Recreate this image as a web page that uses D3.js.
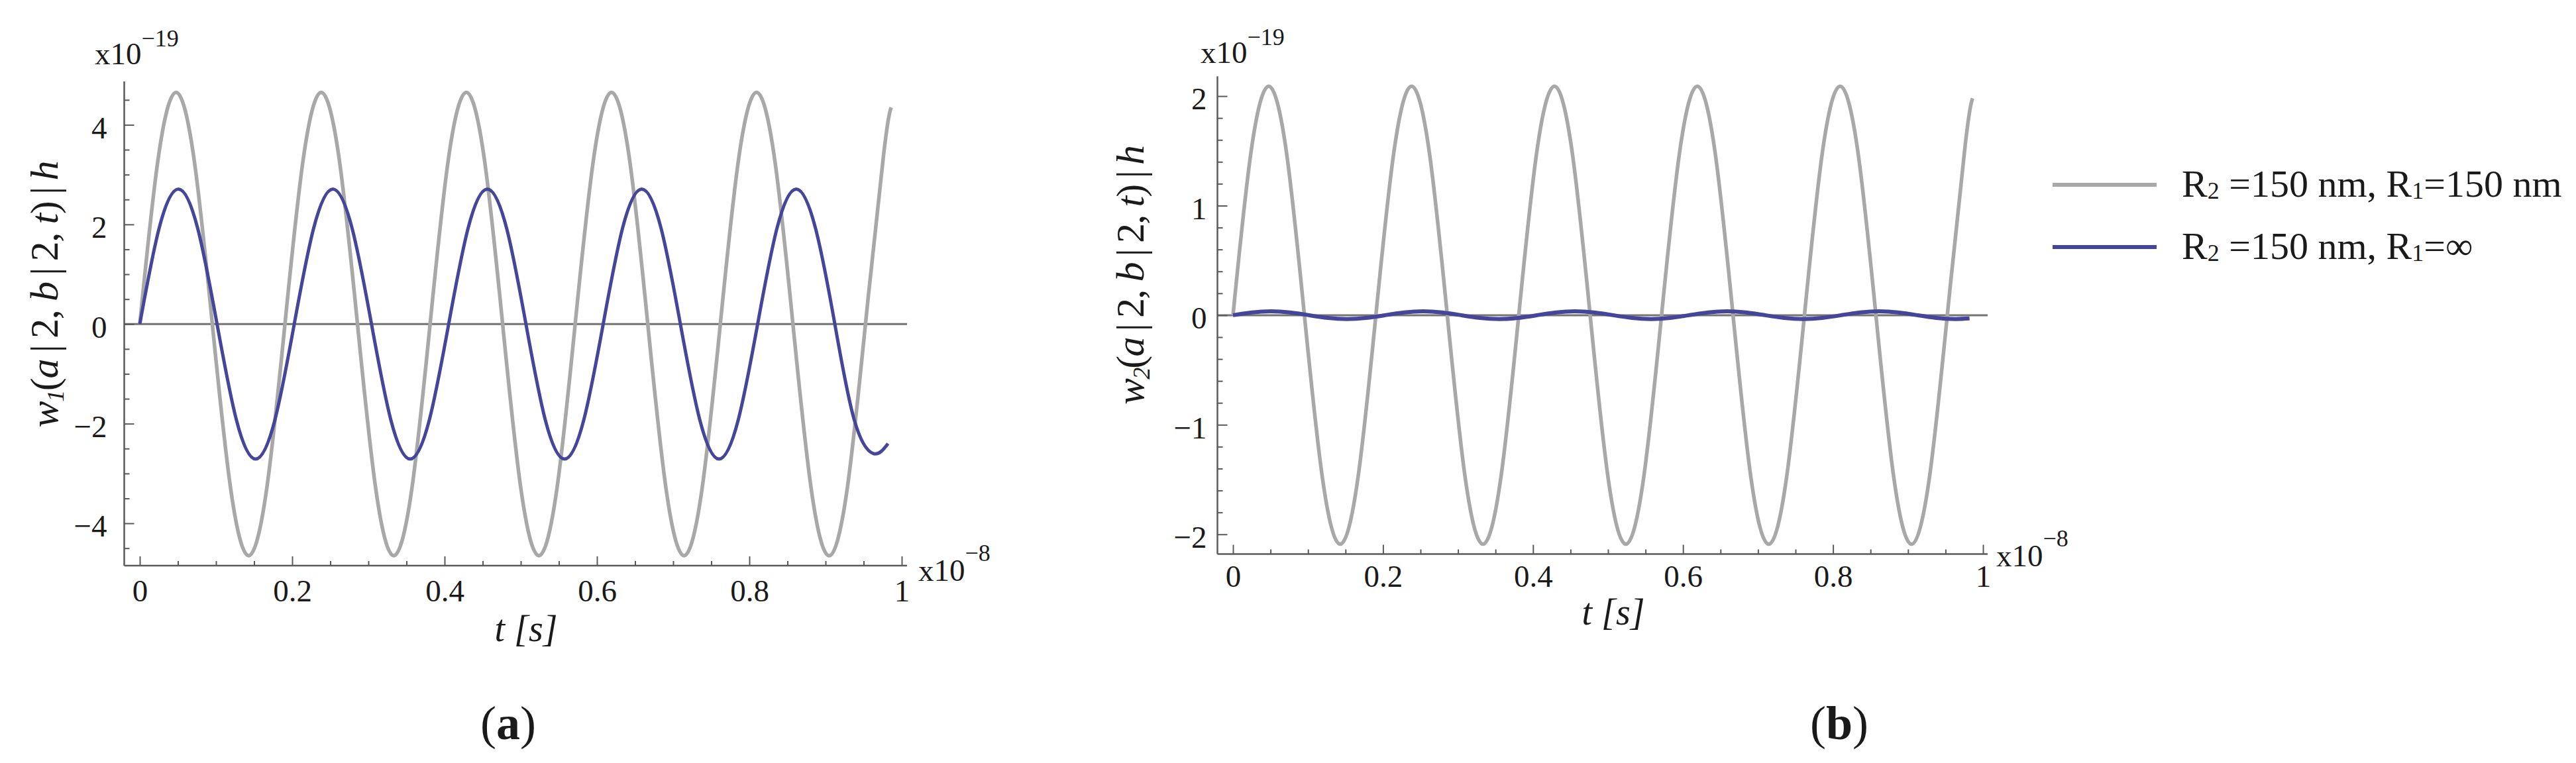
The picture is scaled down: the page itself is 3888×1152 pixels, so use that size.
<!DOCTYPE html>
<html><head><meta charset="utf-8">
<script src="https://cdn.jsdelivr.net/npm/d3@7"></script>
<style>
html,body{margin:0;padding:0;background:#fff;}
svg{display:block;}
text{font-family:"Liberation Serif","Times New Roman",serif;fill:#1a1a1a;}
</style>
</head><body>
<svg id="chart" width="3888" height="1152"></svg>
<script>
// ---------------- data ----------------
// time axis, units of 1e-8 s
const tGray = [0,0.0238,0.0476,0.0714,0.0952,0.1191,0.1429,0.1667,0.1905,0.2143,0.2381,0.2619,0.2857,0.3095,0.3333,0.3572,0.3810,0.4048,0.4286,0.4524,0.4762,0.5000,0.5238,0.5476,0.5714,0.5953,0.6191,0.6429,0.6667,0.6905,0.7143,0.7381,0.7619,0.7857,0.8095,0.8334,0.8572,0.8810,0.9048,0.9286,0.9524,0.9762,0.986];
// panel (a) grey curve  R2=150 nm, R1=150 nm  (x1e-19)
const grayA = [0,3.29,4.65,3.29,0,-3.29,-4.65,-3.29,0,3.29,4.65,3.29,0,-3.29,-4.65,-3.29,0,3.29,4.65,3.29,0,-3.29,-4.65,-3.29,0,3.29,4.65,3.29,0,-3.29,-4.65,-3.29,0,3.29,4.65,3.29,0,-3.29,-4.65,-3.29,0,3.4,4.35];
// panel (b) grey curve
const grayB = [0,1.48,2.09,1.48,0,-1.48,-2.09,-1.48,0,1.48,2.09,1.48,0,-1.48,-2.09,-1.48,0,1.48,2.09,1.48,0,-1.48,-2.09,-1.48,0,1.48,2.09,1.48,0,-1.48,-2.09,-1.48,0,1.48,2.09,1.48,0,-1.48,-2.09,-1.48,0,1.55,1.98];
const tBlue = [0,0.0253,0.0507,0.0760,0.1014,0.1267,0.1520,0.1774,0.2027,0.2281,0.2534,0.2787,0.3041,0.3294,0.3548,0.3801,0.4054,0.4308,0.4561,0.4815,0.5068,0.5321,0.5575,0.5828,0.6082,0.6335,0.6588,0.6842,0.7095,0.7349,0.7602,0.7855,0.8109,0.8362,0.8616,0.8869,0.9122,0.9376,0.9629,0.982];
// panel (a) blue curve  R2=150 nm, R1=inf
const blueA = [0,1.92,2.71,1.92,0,-1.92,-2.71,-1.92,0,1.92,2.71,1.92,0,-1.92,-2.71,-1.92,0,1.92,2.71,1.92,0,-1.92,-2.71,-1.92,0,1.92,2.71,1.92,0,-1.92,-2.71,-1.92,0,1.92,2.71,1.92,0,-1.92,-2.6,-2.4];
// panel (b) blue curve
const blueB = [0,0.025,0.035,0.025,0,-0.025,-0.035,-0.025,0,0.025,0.035,0.025,0,-0.025,-0.035,-0.025,0,0.025,0.035,0.025,0,-0.025,-0.035,-0.025,0,0.025,0.035,0.025,0,-0.025,-0.035,-0.025,0,0.025,0.035,0.025,0,-0.025,-0.035,-0.03];

const xTicks = [0,0.2,0.4,0.6,0.8,1];
const yTicksA = [-4,-2,0,2,4];
const yTicksB = [-2,-1,0,1,2];
const legendLabels = ["R₂ =150 nm, R₁=150 nm", "R₂ =150 nm, R₁=∞"];
const panelLabels = ["a","b"];
const yTitleSub = ["1","2"];

// ---------------- drawing ----------------
const svg = d3.select("#chart");
const GRAY = "#a8a8a8", BLUE = "#45459a", AXIS = "#5a5a5a";

function fmt(d){ return d < 0 ? "\u2212" + Math.abs(d) : String(d); }
function near(a, arr){ return arr.some(b => Math.abs(a-b) < 1e-6); }

function drawPanel(cfg){
  const x = d3.scaleLinear().domain([0,1]).range([cfg.x0, cfg.x1]);
  const y = d3.scaleLinear().domain(cfg.yDomain).range([cfg.yBot, cfg.yTop]);
  const g = svg.append("g");

  // zero line
  g.append("line")
    .attr("x1", cfg.axisX).attr("x2", cfg.axisEnd)
    .attr("y1", y(0)).attr("y2", y(0))
    .attr("stroke", "#747474").attr("stroke-width", 3);

  // axis lines
  g.append("line").attr("x1", cfg.axisX).attr("x2", cfg.axisEnd)
    .attr("y1", cfg.yBot).attr("y2", cfg.yBot)
    .attr("stroke", AXIS).attr("stroke-width", 2.5);
  g.append("line").attr("x1", cfg.axisX).attr("x2", cfg.axisX)
    .attr("y1", cfg.yBot).attr("y2", cfg.yTop)
    .attr("stroke", AXIS).attr("stroke-width", 2.5);

  // x axis (ticks pointing inward)
  const xMinor = d3.range(0, 1.0001, 0.05).map(v => +v.toFixed(4)).filter(v => !near(v, xTicks));
  const gx = g.append("g").attr("transform", `translate(0,${cfg.yBot})`);
  gx.call(d3.axisBottom(x).tickValues(xTicks).tickFormat(fmt)
      .tickSizeInner(-14).tickSizeOuter(0).tickPadding(cfg.xPad));
  const gxm = g.append("g").attr("transform", `translate(0,${cfg.yBot})`);
  gxm.call(d3.axisBottom(x).tickValues(xMinor).tickFormat("")
      .tickSizeInner(-7).tickSizeOuter(0));

  // y axis
  const yMinor = d3.range(Math.ceil(cfg.yDomain[0]/cfg.yMinorStep)*cfg.yMinorStep, cfg.yDomain[1]+1e-9, cfg.yMinorStep)
      .map(v => +v.toFixed(4)).filter(v => !near(v, cfg.yTicks));
  const gy = g.append("g").attr("transform", `translate(${cfg.axisX},0)`);
  gy.call(d3.axisLeft(y).tickValues(cfg.yTicks).tickFormat(fmt)
      .tickSizeInner(-15).tickSizeOuter(0).tickPadding(cfg.yPad));
  const gym = g.append("g").attr("transform", `translate(${cfg.axisX},0)`);
  gym.call(d3.axisLeft(y).tickValues(yMinor).tickFormat("")
      .tickSizeInner(-8).tickSizeOuter(0));

  [gx, gxm, gy, gym].forEach(a => {
    a.select(".domain").remove();
    a.selectAll(".tick line").attr("stroke", AXIS).attr("stroke-width", 2);
    a.selectAll("text").attr("font-family", "Liberation Serif, serif")
      .attr("font-size", 47).attr("fill", "#1a1a1a");
  });
  gy.selectAll(".tick text").attr("dy", "0.42em");

  // curves
  const line = d3.line().x(d => x(d[0])).y(d => y(d[1])).curve(d3.curveNatural);
  cfg.series.forEach(s => {
    g.append("path").datum(d3.zip(s.t, s.v))
      .attr("d", line).attr("fill", "none")
      .attr("stroke", s.color).attr("stroke-width", s.w)
      .attr("stroke-linejoin", "round").attr("stroke-linecap", "butt");
  });

  // exponent labels
  const e1 = g.append("text").attr("x", cfg.yExpX).attr("y", cfg.yExpY).attr("font-size", 47);
  e1.append("tspan").text("x10");
  e1.append("tspan").attr("font-size", 36).attr("dy", -27).text("\u221219");
  const e2 = g.append("text").attr("x", cfg.xExpX).attr("y", cfg.xExpY).attr("font-size", 47);
  e2.append("tspan").text("x10");
  e2.append("tspan").attr("font-size", 36).attr("dy", -30).text("\u22128");

  // x title
  g.append("text").attr("x", cfg.xTitleX).attr("y", cfg.xTitleY)
    .attr("text-anchor", "middle").attr("font-size", 56).attr("font-style", "italic")
    .text("t [s]");

  // y title
  const yt = g.append("text")
    .attr("transform", `translate(${cfg.yTitleX},${cfg.yTitleY}) rotate(-90)`)
    .attr("text-anchor", "middle").attr("font-size", 60)
    .attr("textLength", cfg.yTitleLen).attr("lengthAdjust", "spacing");
  yt.append("tspan").attr("font-style", "italic").text("w");
  yt.append("tspan").attr("font-style", "italic").attr("font-size", 36).attr("dy", 9).text(cfg.sub);
  yt.append("tspan").attr("dy", -9).text("(");
  yt.append("tspan").attr("font-style", "italic").text("a");
  yt.append("tspan").text("\u2009|\u20092, ");
  yt.append("tspan").attr("font-style", "italic").text("b");
  yt.append("tspan").text("\u2009|\u20092, ");
  yt.append("tspan").attr("font-style", "italic").text("t");
  yt.append("tspan").text(")\u2009|\u2009");
  yt.append("tspan").attr("font-style", "italic").text("h");

  // panel label
  const pl = g.append("text").attr("x", cfg.labX).attr("y", 1116)
    .attr("text-anchor", "middle").attr("font-size", 72);
  pl.append("tspan").text("(");
  pl.append("tspan").attr("font-weight", "bold").text(cfg.lab);
  pl.append("tspan").text(")");
}

drawPanel({
  x0: 211, x1: 1361, yTop: 123, yBot: 854, axisX: 187.5, axisEnd: 1369,
  yDomain: [-4.85, 4.87], yTicks: yTicksA, yMinorStep: 0.5,
  xPad: 21, yPad: 26,
  yExpX: 143, yExpY: 97, xExpX: 1386, xExpY: 877,
  xTitleX: 794, xTitleY: 968,
  yTitleX: 87, yTitleY: 444, yTitleLen: 403, sub: yTitleSub[0],
  labX: 767, lab: panelLabels[0],
  series: [
    {t: tGray, v: grayA, color: GRAY, w: 5.5},
    {t: tBlue, v: blueA, color: BLUE, w: 5}
  ]
});

drawPanel({
  x0: 1861, x1: 2993, yTop: 115.3, yBot: 836.5, axisX: 1837.5, axisEnd: 3000,
  yDomain: [-2.18, 2.18], yTicks: yTicksB, yMinorStep: 0.2,
  xPad: 16, yPad: 16,
  yExpX: 1812, yExpY: 95, xExpX: 3013, xExpY: 855,
  xTitleX: 2435, xTitleY: 943,
  yTitleX: 1726, yTitleY: 415, yTitleLen: 392, sub: yTitleSub[1],
  labX: 2776, lab: panelLabels[1],
  series: [
    {t: tGray, v: grayB, color: GRAY, w: 5.5},
    {t: tBlue, v: blueB, color: BLUE, w: 6}
  ]
});

// legend
const legColors = [GRAY, BLUE];
const legY = [279, 373];
legendLabels.forEach((lab, i) => {
  svg.append("line").attr("x1", 3098).attr("x2", 3255)
    .attr("y1", legY[i]).attr("y2", legY[i])
    .attr("stroke", legColors[i]).attr("stroke-width", 6);
  const tx = svg.append("text").attr("x", 3293).attr("y", legY[i] + 18).attr("font-size", 58);
  const parts = lab.split(/([₁₂])/);
  let lowered = false;
  parts.forEach(p => {
    if (p === "") return;
    if (p === "₁" || p === "₂") {
      tx.append("tspan").attr("font-size", 36).attr("dy", 3).text(p === "₁" ? "1" : "2");
      lowered = true;
    } else {
      tx.append("tspan").attr("dy", lowered ? -3 : 0).text(p);
      lowered = false;
    }
  });
});
</script>
</body></html>
